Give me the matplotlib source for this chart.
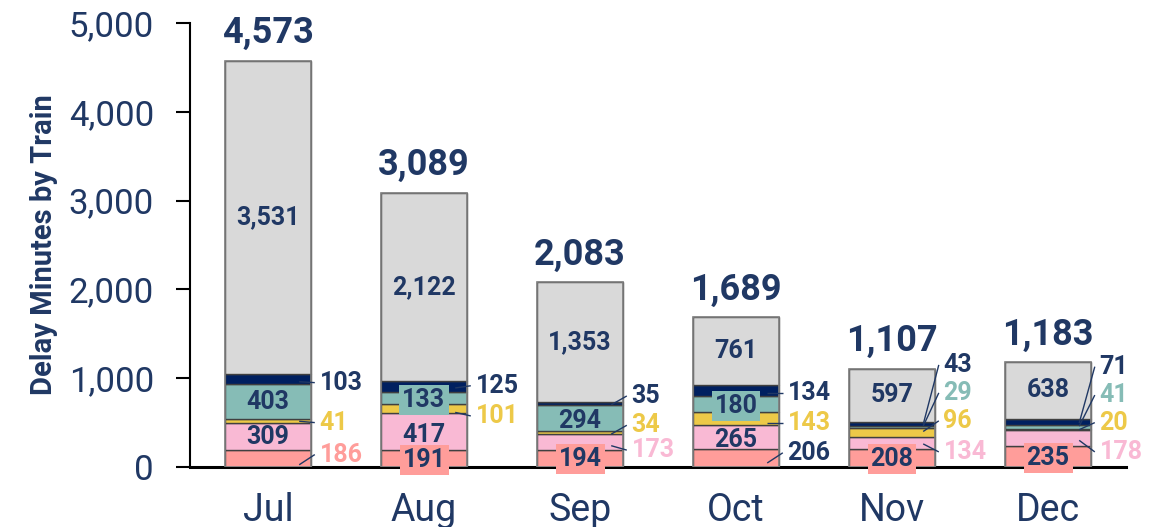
import matplotlib
matplotlib.use("Agg")
import matplotlib.pyplot as plt
import numpy as np

months = ["Jul", "Aug", "Sep", "Oct", "Nov", "Dec"]
salmon_vals = [186, 191, 194, 206, 208, 235]
pink_vals = [309, 417, 173, 265, 134, 178]
yellow_vals = [41, 101, 34, 143, 96, 20]
teal_vals = [403, 133, 294, 180, 29, 41]
navy_vals = [103, 125, 35, 134, 43, 71]
gray_vals = [3531, 2122, 1353, 761, 597, 638]
yticks = [0, 1000, 2000, 3000, 4000, 5000]

series = [salmon_vals, pink_vals, yellow_vals, teal_vals, navy_vals, gray_vals]
colors = ["#FF9D9A", "#F9B9D4", "#EDC948", "#86BCB6", "#002060", "#D9D9D9"]
TXT = "#203864"
label_colors = [colors[0], colors[1], colors[2], colors[3], TXT, TXT]

plt.rcParams['font.family'] = ['Roboto', 'DejaVu Sans']

fig = plt.figure(figsize=(11.66, 5.27), dpi=100)
ax = fig.add_axes([190/1166, 60/527, 936/1166, 444/527])

x = np.arange(len(months))
W = 0.55
bottoms = np.zeros(len(months))
tops = []
for vals, c in zip(series, colors):
    v = np.array(vals, dtype=float)
    ax.bar(x, v, W, bottom=bottoms, color=c, edgecolor="#404040", linewidth=1.0, zorder=2)
    tops.append((bottoms.copy(), bottoms + v))
    bottoms = bottoms + v
ax.bar(x, bottoms, W, fill=False, edgecolor="#7F7F7F", linewidth=1.2, zorder=3)

totals = bottoms

ax.set_xlim(-0.5, 5.5)
ax.set_ylim(0, 5000)
ax.set_yticks(yticks)
ax.set_yticklabels([f"{t:,}" for t in yticks])
ax.set_xticks(x)
ax.set_xticklabels(months)
ax.tick_params(axis='y', labelsize=25, length=10, width=1.5, direction='out', pad=16, color='black')
ax.tick_params(axis='x', labelsize=27, labelcolor=TXT, length=0, pad=18)
for lab in ax.get_yticklabels():
    lab.set_color(TXT)
for s in ["top", "right"]:
    ax.spines[s].set_visible(False)
ax.spines["left"].set_linewidth(1.5)
ax.spines["bottom"].set_linewidth(2.2)
ax.spines["bottom"].set_zorder(1)
ax.set_ylabel("Delay Minutes by Train", fontsize=21, fontweight='bold', color=TXT, labelpad=8)

FS = 18

def seg_mid(s, i):
    b, t = tops[s]
    return (b[i] + t[i]) / 2

def inside(s, i, box=False, dy=0):
    val = series[s][i]
    kw = {}
    if box:
        kw['bbox'] = dict(boxstyle='square,pad=0.12', fc=colors[s], ec='none')
    ax.text(x[i], seg_mid(s, i) + dy, f"{val:,}", ha='center', va='center', fontsize=FS,
            fontweight='bold', color=TXT, zorder=6, clip_on=False, **kw)

def outside(s, i, ty, ly, tcolor=None):
    val = series[s][i]
    c = tcolor if tcolor else label_colors[s]
    ax.plot([x[i] + 0.2, x[i] + 0.3], [ly, ty], color=TXT, lw=1.0, zorder=7, solid_capstyle='butt')
    ax.text(x[i] + 0.33, ty, f"{val:,}", ha='left', va='center', fontsize=FS,
            fontweight='bold', color=c, zorder=6)

for i in range(6):
    inside(5, i)

# Jul
inside(3, 0); inside(1, 0)
outside(4, 0, 950, 960); outside(2, 0, 500, 515); outside(0, 0, 140, 25)
# Aug
inside(3, 1, box=True, dy=-25); inside(1, 1, dy=-40); inside(0, 1, box=True, dy=-12)
outside(4, 1, 915, 890); outside(2, 1, 575, 615)
# Sep
inside(3, 2, dy=-30); inside(0, 2, box=True, dy=-12)
outside(4, 2, 800, 700); outside(2, 2, 470, 370); outside(1, 2, 190, 240)
# Oct
inside(3, 3, box=True, dy=-20); inside(1, 3, dy=-40)
outside(4, 3, 830, 830); outside(2, 3, 490, 490); outside(0, 3, 160, 45, tcolor=TXT)
# Nov
inside(0, 4, box=True, dy=-12)
outside(4, 4, 1150, 480); outside(3, 4, 835, 460); outside(2, 4, 520, 400); outside(1, 4, 170, 260)
# Dec
inside(0, 5, box=True, dy=-12)
outside(4, 5, 1130, 495); outside(3, 5, 810, 460); outside(2, 5, 500, 420); outside(1, 5, 170, 300)

for i in range(6):
    ax.text(x[i], totals[i] + 310, f"{int(totals[i]):,}", ha='center', va='center', fontsize=26,
            fontweight='bold', color=TXT, zorder=6, clip_on=False)

fig.savefig("out.png", dpi=100)
